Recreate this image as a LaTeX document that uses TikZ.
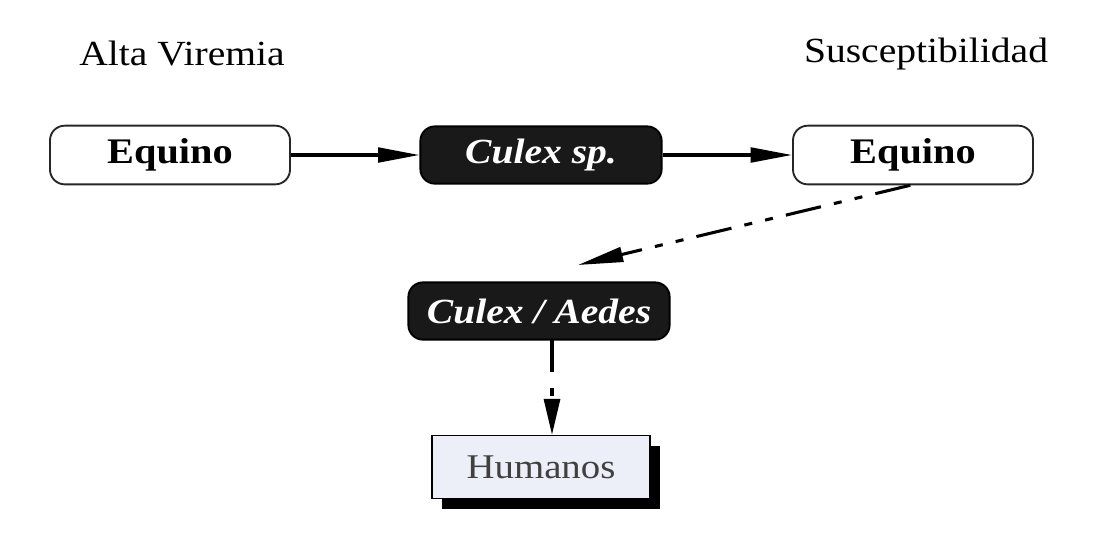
\documentclass[tikz,border=0pt]{standalone}
\usepackage{fontspec}
\setmainfont{Liberation Serif}[FakeStretch=1.12]
\usetikzlibrary{arrows.meta}
\begin{document}
\begin{tikzpicture}[x=0.75pt,y=0.75pt,yscale=-1,xscale=1,
    lightbox/.style={draw=black!85, line width=1.4pt, rounded corners=11pt, fill=white,
        minimum width=180pt, minimum height=44pt, inner sep=0pt,
        font=\fontsize{27}{32}\selectfont\bfseries},
    darkbox/.style={draw=black, line width=1.4pt, rounded corners=11pt, fill=black!90,
        text=white, minimum height=43pt, inner sep=0pt,
        font=\fontsize{26.5}{32}\selectfont\bfseries\itshape},
    plainlabel/.style={inner sep=0pt, font=\fontsize{26.5}{32}\selectfont},
    flow/.style={line width=2.3pt, -{Triangle[length=31pt,width=11pt]}}
  ]
  \useasboundingbox (0,0) rectangle (1102,533);

  % Text Node
  \draw (182,54) node [plainlabel] (viremia) {Alta Viremia};
  % Text Node
  \draw (926,54) node [plainlabel] (suscept) {Susceptibilidad};

  % boxes of the first row
  \draw (170,155) node [lightbox] (equinoA) {Equino};
  \draw (541,155) node [darkbox, minimum width=181pt] (culexSp) {Culex sp.};
  \draw (913,155) node [lightbox] (equinoB) {Equino};

  % Culex / Aedes
  \draw (539,311) node [darkbox, minimum width=196pt] (culexAedes) {Culex / Aedes};

  % Humanos with its shadow
  \fill [black] (442,446) rectangle (660,509);
  \draw (541,467) node [draw=black, line width=1.2pt, fill={rgb,255:red,236; green,238; blue,248},
      text=black!75, minimum width=163.5pt, minimum height=47pt, inner sep=0pt,
      font=\fontsize{26}{31}\selectfont] (humanos) {Humanos};

  %Straight Lines
  \draw [flow] (equinoA) -- (culexSp);
  \draw [flow] (culexSp) -- (equinoB);

  %Dashed Lines
  \coordinate (dashEnd) at (578,265);
  \draw [flow, -{Triangle[length=34pt,width=11pt]},
      dash pattern=on 27pt off 10pt on 6pt off 10pt on 6pt off 10pt]
      ([xshift=-2pt]equinoB.south) -- (dashEnd);
  \coordinate (dropTop) at (552,340);
  \draw [flow, -{Triangle[length=27pt,width=12pt]},
      dash pattern=on 24pt off 12pt on 6pt off 12pt]
      (dropTop) -- (dropTop |- humanos.north);
\end{tikzpicture}
\end{document}
